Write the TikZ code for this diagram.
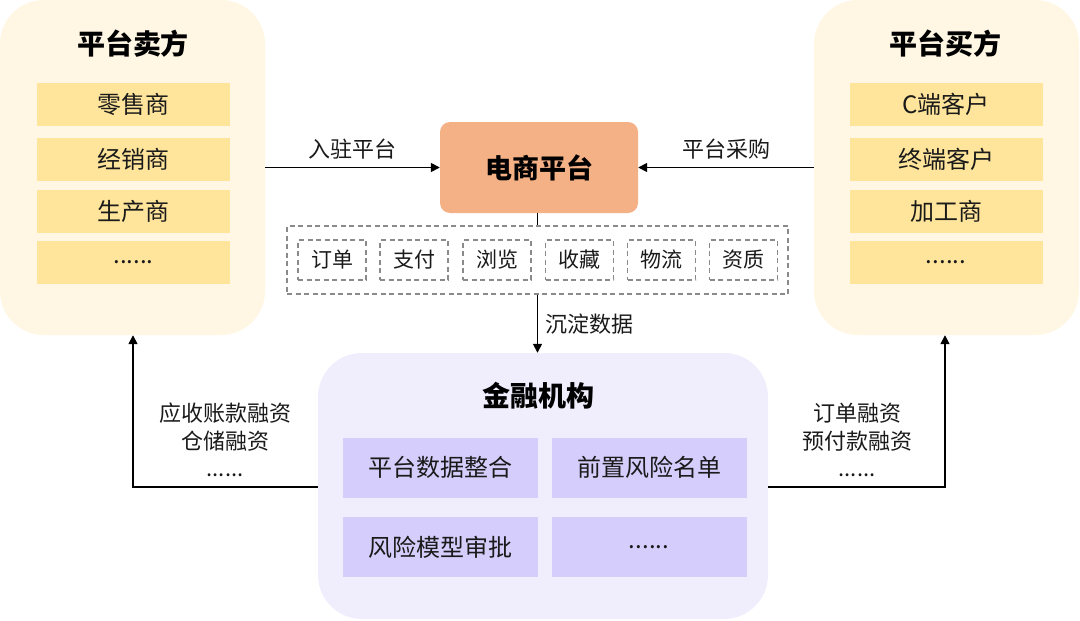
\documentclass[tikz,border=0pt]{standalone}
\usepackage{fontspec}
\setmainfont{Noto Sans CJK SC}
\usetikzlibrary{arrows.meta}
\definecolor{panelY}{HTML}{FFF6E3}
\definecolor{itemY}{HTML}{FFE59B}
\definecolor{orangeP}{HTML}{F4B185}
\definecolor{panelV}{HTML}{F0EDFD}
\definecolor{itemV}{HTML}{D5CDFB}
\definecolor{txt}{HTML}{1A1A1A}
\definecolor{dashc}{HTML}{8A8A8A}
\tikzset{
  panel/.style={rounded corners=44pt, inner sep=0pt, draw=none},
  itemy/.style={fill=itemY, minimum width=193pt, minimum height=43pt, inner sep=0pt, font=\fontsize{24}{28}\selectfont, text=txt},
  itemv/.style={fill=itemV, minimum width=195pt, minimum height=60pt, inner sep=0pt, font=\fontsize{24}{28}\selectfont, text=txt},
  ttl/.style={font=\fontsize{28}{32}\selectfont\bfseries, text=black},
  dbox/.style={draw=dashc, line width=1.2pt, dash pattern=on 5pt off 3.5pt, minimum width=68pt, minimum height=40pt, inner sep=0pt, font=\fontsize{21}{24}\selectfont, text=txt},
  lbl/.style={font=\fontsize{22}{27.5}\selectfont, text=txt, align=center},
  conn/.style={line width=1.6pt, black},
  arr/.style={conn, -{Triangle[length=9pt,width=9pt]}}
}
\begin{document}
\begin{tikzpicture}[x=1pt,y=-1pt]
\useasboundingbox (0,0) rectangle (1080,621);
% panels
\node[panel, fill=panelY, minimum width=265pt, minimum height=335pt] (sell) at (132.5,167.5) {};
\node[panel, fill=panelY, minimum width=265pt, minimum height=335pt] (buy) at (946.5,167.5) {};
\node[panel, fill=panelV, minimum width=450pt, minimum height=266pt] (fin) at (543,486) {};
% titles
\node[ttl] (sellT) at (133,44) {平台卖方};
\node[ttl] (buyT) at (945,44) {平台买方};
\node[ttl] (finT) at (538,396) {金融机构};
% seller items
\node[itemy] (s1) at (133.5,104.5) {零售商};
\node[itemy] (s2) at (133.5,159.5) {经销商};
\node[itemy] (s3) at (133.5,211) {生产商};
\node[itemy] (s4) at (133.5,262) {......};
% buyer items
\node[itemy] (b1) at (946,104.5) {C端客户};
\node[itemy] (b2) at (946,159.5) {终端客户};
\node[itemy] (b3) at (946,211) {加工商};
\node[itemy] (b4) at (946,262) {......};
% platform
\node[fill=orangeP, rounded corners=10pt, minimum width=198pt, minimum height=91pt, inner sep=0pt, font=\fontsize{27}{31}\selectfont\bfseries, text=black] (plat) at (539,167.5) {电商平台};
% data dashed group
\node[draw=dashc, line width=1.2pt, dash pattern=on 5pt off 3.5pt, minimum width=501pt, minimum height=68pt, inner sep=0pt] (data) at (537.5,260) {};
\node[dbox] (d1) at (332,260) {订单};
\node[dbox] (d2) at (414,260) {支付};
\node[dbox] (d3) at (497,260) {浏览};
\node[dbox] (d4) at (579.5,260) {收藏};
\node[dbox] (d5) at (661.5,260) {物流};
\node[dbox] (d6) at (743.5,260) {资质};
% financial items
\node[itemv] (f1) at (440,467.5) {平台数据整合};
\node[itemv] (f2) at (649,467.5) {前置风险名单};
\node[itemv] (f3) at (440,547) {风险模型审批};
\node[itemv] (f4) at (649,547) {......};
% connectors
\draw[arr] (sell.east |- plat.west) -- node[lbl, above=4pt] (lIn) {入驻平台} (plat.west);
\draw[arr] (buy.west |- plat.east) -- node[lbl, above=4pt] (lBuy) {平台采购} (plat.east);
\coordinate (pb) at (plat.south -| data.north);
\draw[conn] (pb) -- (data.north);
\draw[arr] (data.south) -- node[lbl, right=4pt] (lDep) {沉淀数据} (data.south |- fin.north);
\coordinate (lc) at (133,487);
\coordinate (rc) at (945,487);
\draw[arr] (fin.west |- lc) -- (lc) -- (lc |- sell.south);
\draw[arr] (fin.east |- rc) -- (rc) -- (rc |- buy.south);
\node[lbl] (lfin) at (225,440) {应收账款融资\\仓储融资\\......};
\node[lbl] (rfin) at (857,440) {订单融资\\预付款融资\\......};
\end{tikzpicture}
\end{document}
